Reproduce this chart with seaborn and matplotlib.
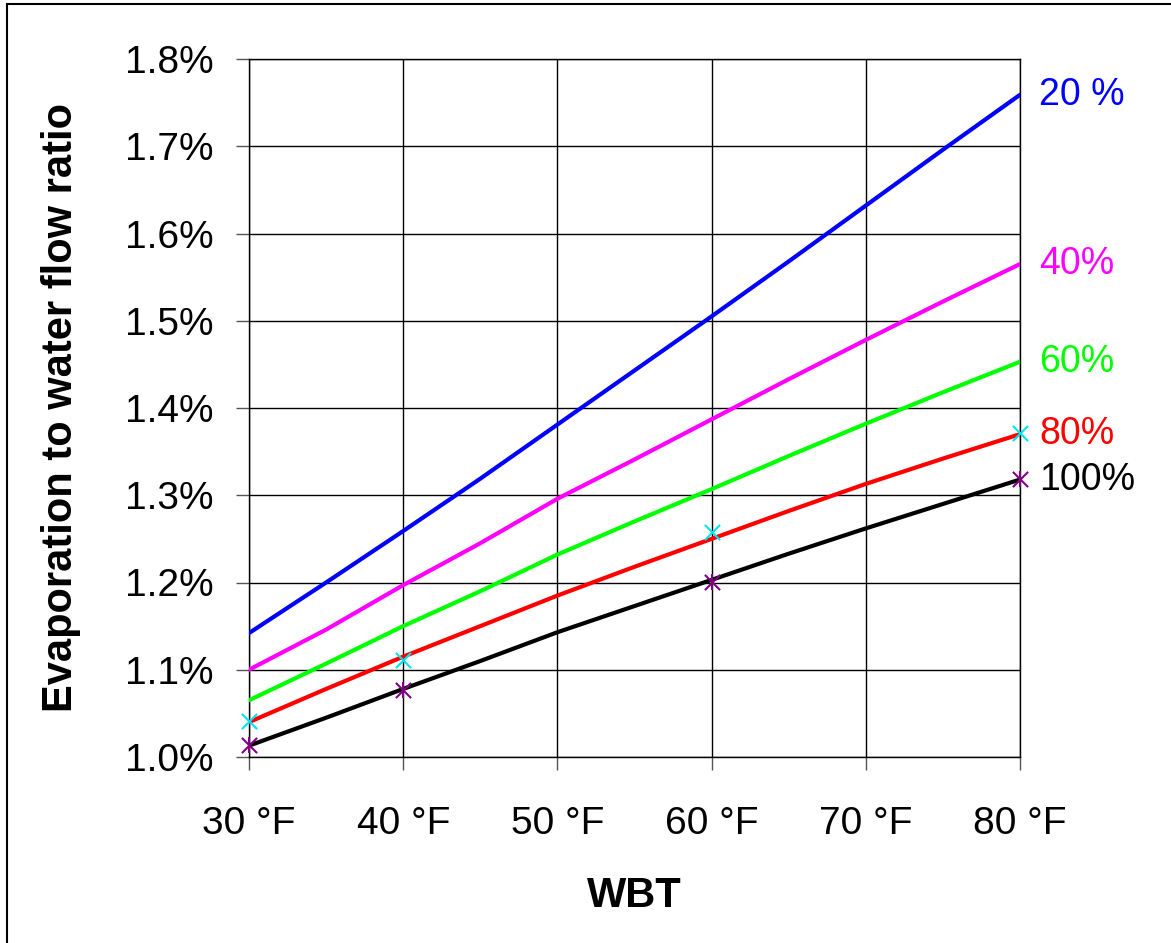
import numpy as np
import pandas as pd
import matplotlib
matplotlib.use('Agg')
import matplotlib.pyplot as plt
import seaborn as sns
from matplotlib.patches import Rectangle
from matplotlib.ticker import FuncFormatter

# wet bulb temperature (F) and evaporation/water flow ratio (%) per relative humidity
wbt = [30, 35, 40, 45, 50, 55, 60, 65, 70, 75, 80]
rh_20 = [1.142, 1.200, 1.259, 1.319, 1.381, 1.443, 1.505, 1.568, 1.632, 1.696, 1.759]
rh_40 = [1.100, 1.146, 1.197, 1.245, 1.296, 1.341, 1.387, 1.433, 1.478, 1.522, 1.565]
rh_60 = [1.065, 1.107, 1.150, 1.190, 1.232, 1.270, 1.307, 1.345, 1.382, 1.418, 1.453]
rh_80 = [1.040, 1.078, 1.115, 1.150, 1.185, 1.218, 1.250, 1.282, 1.313, 1.342, 1.370]
rh_100 = [1.013, 1.045, 1.078, 1.110, 1.143, 1.173, 1.203, 1.233, 1.262, 1.290, 1.318]

series_names = ['20 %', '40%', '60%', '80%', '100%']
series_colors = ['#0000ff', '#ff00ff', '#00ff00', '#ff0000', '#000000']

marker_wbt = [30, 40, 60, 80]
marker_cyan = [1.041, 1.111, 1.258, 1.371]
marker_purple = [1.014, 1.077, 1.201, 1.319]

x_ticks = [30, 40, 50, 60, 70, 80]
y_ticks = [1.0, 1.1, 1.2, 1.3, 1.4, 1.5, 1.6, 1.7, 1.8]

all_series = [rh_20, rh_40, rh_60, rh_80, rh_100]
df = pd.concat([pd.DataFrame({'WBT': wbt, 'ratio': vals, 'RH': name})
                for name, vals in zip(series_names, all_series)], ignore_index=True)

sns.set_style('white')
plt.rcParams['font.family'] = ['Liberation Sans', 'DejaVu Sans']

fig = plt.figure(figsize=(11.71, 9.43), dpi=100)
ax = fig.add_axes([249 / 1171, 1 - 757 / 943, (1020 - 249) / 1171, (757 - 59) / 943])

sns.lineplot(data=df, x='WBT', y='ratio', hue='RH', palette=series_colors,
             linewidth=3.0, legend=False, ax=ax, zorder=3)

sns.scatterplot(x=marker_wbt, y=marker_cyan, marker='x', color='#00e5ee', s=120,
                linewidth=1.5, ax=ax, zorder=4, clip_on=False)
sns.scatterplot(x=marker_wbt, y=marker_purple, marker='x', color='#800080', s=120,
                linewidth=1.5, ax=ax, zorder=4, clip_on=False)
sns.scatterplot(x=marker_wbt, y=marker_purple, marker='|', color='#800080', s=140,
                linewidth=1.5, ax=ax, zorder=4, clip_on=False)

ax.set_xlim(30, 80)
ax.set_ylim(1.0, 1.8)
ax.set_xticks(x_ticks)
ax.set_yticks(y_ticks)
ax.xaxis.set_major_formatter(FuncFormatter(lambda v, p: f'{v:.0f} °F'))
ax.yaxis.set_major_formatter(FuncFormatter(lambda v, p: f'{v:.1f}%'))
ax.grid(True, color='black', linewidth=1)
ax.set_axisbelow(True)
for s in ax.spines.values():
    s.set_color('black')
    s.set_linewidth(1)

ax.tick_params(axis='both', direction='out', length=9.5, width=1, color='#555555',
               labelsize=28, labelcolor='black', bottom=True, left=True)
ax.tick_params(axis='x', pad=26)
ax.tick_params(axis='y', pad=16)

ax.set_xlabel('WBT', fontsize=30, fontweight='bold', labelpad=24, color='black')
ax.set_ylabel('Evaporation to water flow ratio', fontsize=30, fontweight='bold',
              labelpad=32, color='black')

# series labels at the right end of each curve
for name, vals, col in zip(series_names, all_series, series_colors):
    ax.annotate(name, xy=(wbt[-1], vals[-1]), xytext=(14, 0), textcoords='offset points',
                va='center', ha='left', fontsize=27, color=col, annotation_clip=False)

# outer frame (left and top edges visible)
fig.add_artist(Rectangle((7 / 1171, -0.05), 1.2, (943 - 4) / 943 + 0.05,
                         transform=fig.transFigure, fill=False,
                         edgecolor='black', linewidth=1.5))

fig.savefig('out.png', dpi=100)
